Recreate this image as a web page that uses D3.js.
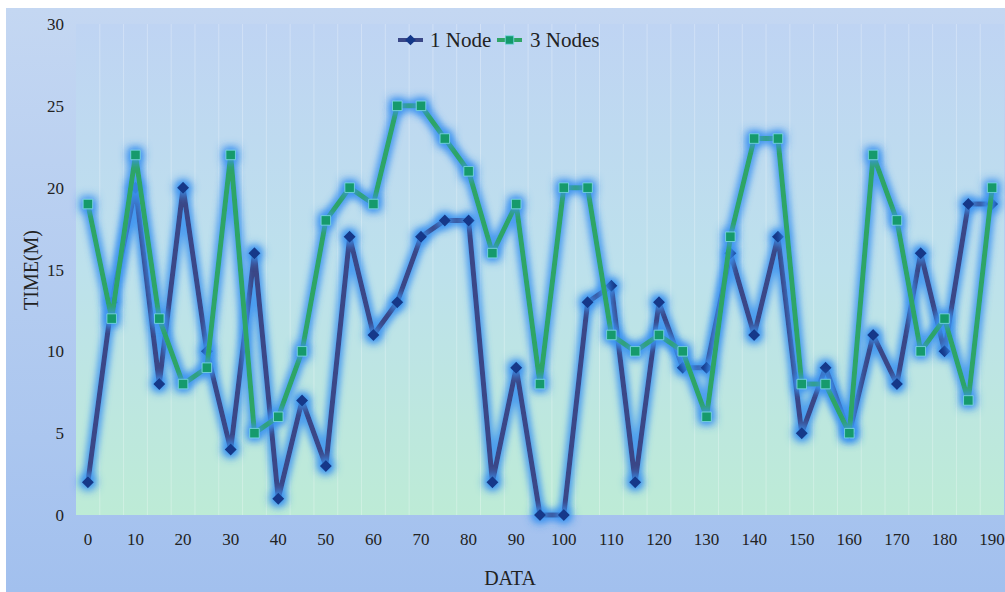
<!DOCTYPE html>
<html><head><meta charset="utf-8">
<script src="https://cdn.jsdelivr.net/npm/d3@7"></script>
<style>body{margin:0;background:#fff}svg{display:block}</style>
</head><body>
<script>
const categories = [0,5,10,15,20,25,30,35,40,45,50,55,60,65,70,75,80,85,90,95,100,105,110,115,120,125,130,135,140,145,150,155,160,165,170,175,180,185,190];
const node1 = [2,13,20,8,20,10,4,16,1,7,3,17,11,13,17,18,18,2,9,0,0,13,14,2,13,9,9,16,11,17,5,9,5,11,8,16,10,19,19];
const node3 = [19,12,22,12,8,9,22,5,6,10,18,20,19,25,25,23,21,16,19,8,20,20,11,10,11,10,6,17,23,23,8,8,5,22,18,10,12,7,20];
const xTickLabels = [0,10,20,30,40,50,60,70,80,90,100,110,120,130,140,150,160,170,180,190];
const yTicks = [0,5,10,15,20,25,30];
const seriesNames = ["1 Node","3 Nodes"];

const W=1005,H=592;
const FONT='"Liberation Serif", "Times New Roman", serif';
const svg=d3.select("body").append("svg").attr("width",W).attr("height",H).style("font-family",FONT);
const defs=svg.append("defs");
const g1=defs.append("linearGradient").attr("id","bgOuter").attr("x1",0).attr("y1",0).attr("x2",0).attr("y2",1);
g1.append("stop").attr("offset","0%").attr("stop-color","#c4d7f2");
g1.append("stop").attr("offset","100%").attr("stop-color","#a2c0ee");
const g2=defs.append("linearGradient").attr("id","bgPlot").attr("x1",0).attr("y1",0).attr("x2",0).attr("y2",1);
g2.append("stop").attr("offset","0%").attr("stop-color","#bfd4f3");
g2.append("stop").attr("offset","50%").attr("stop-color","#bde1ec");
g2.append("stop").attr("offset","100%").attr("stop-color","#bdebd6");
function glow(id,r,sd,op){
 const f=defs.append("filter").attr("id",id).attr("x","-20%").attr("y","-20%").attr("width","140%").attr("height","140%");
 f.append("feMorphology").attr("in","SourceAlpha").attr("operator","dilate").attr("radius",r).attr("result","d");
 f.append("feGaussianBlur").attr("in","d").attr("stdDeviation",sd).attr("result","b");
 f.append("feFlood").attr("flood-color","#3a92f0").attr("flood-opacity",op).attr("result","c");
 f.append("feComposite").attr("in","c").attr("in2","b").attr("operator","in").attr("result","gl");
 const fm=f.append("feMerge");
 fm.append("feMergeNode").attr("in","gl");
 fm.append("feMergeNode").attr("in","SourceGraphic");
}
glow("glow",3,3,0.85);
glow("glowM",3,4,0.9);

svg.append("rect").attr("x",6).attr("y",8).attr("width",W-6).attr("height",H-8).attr("fill","url(#bgOuter)");
const L=76,R=1004,T=24,B=515;
svg.append("rect").attr("x",L).attr("y",T).attr("width",R-L).attr("height",B-T).attr("fill","url(#bgPlot)");

const x=d3.scaleBand().domain(categories).range([L,R]);
const cx=d=>x(d)+x.bandwidth()/2;
const y=d3.scaleLinear().domain([0,30]).range([B,T]);

svg.append("g").selectAll("line").data(categories.slice(1)).join("line")
 .attr("x1",d=>x(d)).attr("x2",d=>x(d)).attr("y1",T).attr("y2",B)
 .attr("stroke","#ffffff").attr("stroke-opacity",0.28).attr("stroke-width",1);

svg.append("g").selectAll("text").data(xTickLabels).join("text")
 .attr("x",d=>cx(d)).attr("y",545).attr("text-anchor","middle")
 .attr("font-size",17).attr("fill","#222").text(d=>d);
svg.append("g").selectAll("text").data(yTicks).join("text")
 .attr("x",64).attr("y",d=>y(d)+6).attr("text-anchor","end")
 .attr("font-size",17).attr("fill","#222").text(d=>d);
svg.append("text").attr("x",510).attr("y",585).attr("text-anchor","middle")
 .attr("font-size",20).attr("fill","#222").text("DATA");
svg.append("text").attr("transform","translate(38,270) rotate(-90)").attr("text-anchor","middle")
 .attr("font-size",20).attr("fill","#222").text("TIME(M)");

const line=d3.line().x((d,i)=>cx(categories[i])).y(d=>y(d));
const series=[
 {name:seriesNames[0],data:node1,line:"#3a4787",marker:"#143889",shape:d3.symbolSquare,rot:45,size:72,stroke:"none"},
 {name:seriesNames[1],data:node3,line:"#2fa566",marker:"#129a6c",shape:d3.symbolSquare,rot:0,size:90,stroke:"#7fd8e6"}
];
series.forEach(s=>{
 const g=svg.append("g");
 g.append("path").attr("d",line(s.data)).attr("fill","none").attr("stroke",s.line).attr("stroke-width",5)
  .attr("stroke-linejoin","round").attr("filter","url(#glow)");
 g.append("g").attr("filter","url(#glowM)").selectAll("path").data(s.data).join("path")
  .attr("transform",(d,i)=>`translate(${cx(categories[i])},${y(d)}) rotate(${s.rot})`)
  .attr("d",d3.symbol().type(s.shape).size(s.size)())
  .attr("fill",s.marker).attr("stroke",s.stroke).attr("stroke-width",0.8);
});

const leg=svg.append("g");
const legItems=[{s:series[0],x0:398,tx:430},{s:series[1],x0:497,tx:530}];
legItems.forEach(it=>{
 leg.append("line").attr("x1",it.x0).attr("x2",it.x0+25).attr("y1",40).attr("y2",40).attr("stroke",it.s.line).attr("stroke-width",4);
 leg.append("path").attr("transform",`translate(${it.x0+12.5},40) rotate(${it.s.rot})`).attr("d",d3.symbol().type(it.s.shape).size(it.s.size*0.8)())
  .attr("fill",it.s.marker).attr("stroke",it.s.stroke).attr("stroke-width",0.8);
 leg.append("text").attr("x",it.tx).attr("y",47).attr("font-size",21).attr("fill","#222").text(it.s.name);
});
</script>
</body></html>
